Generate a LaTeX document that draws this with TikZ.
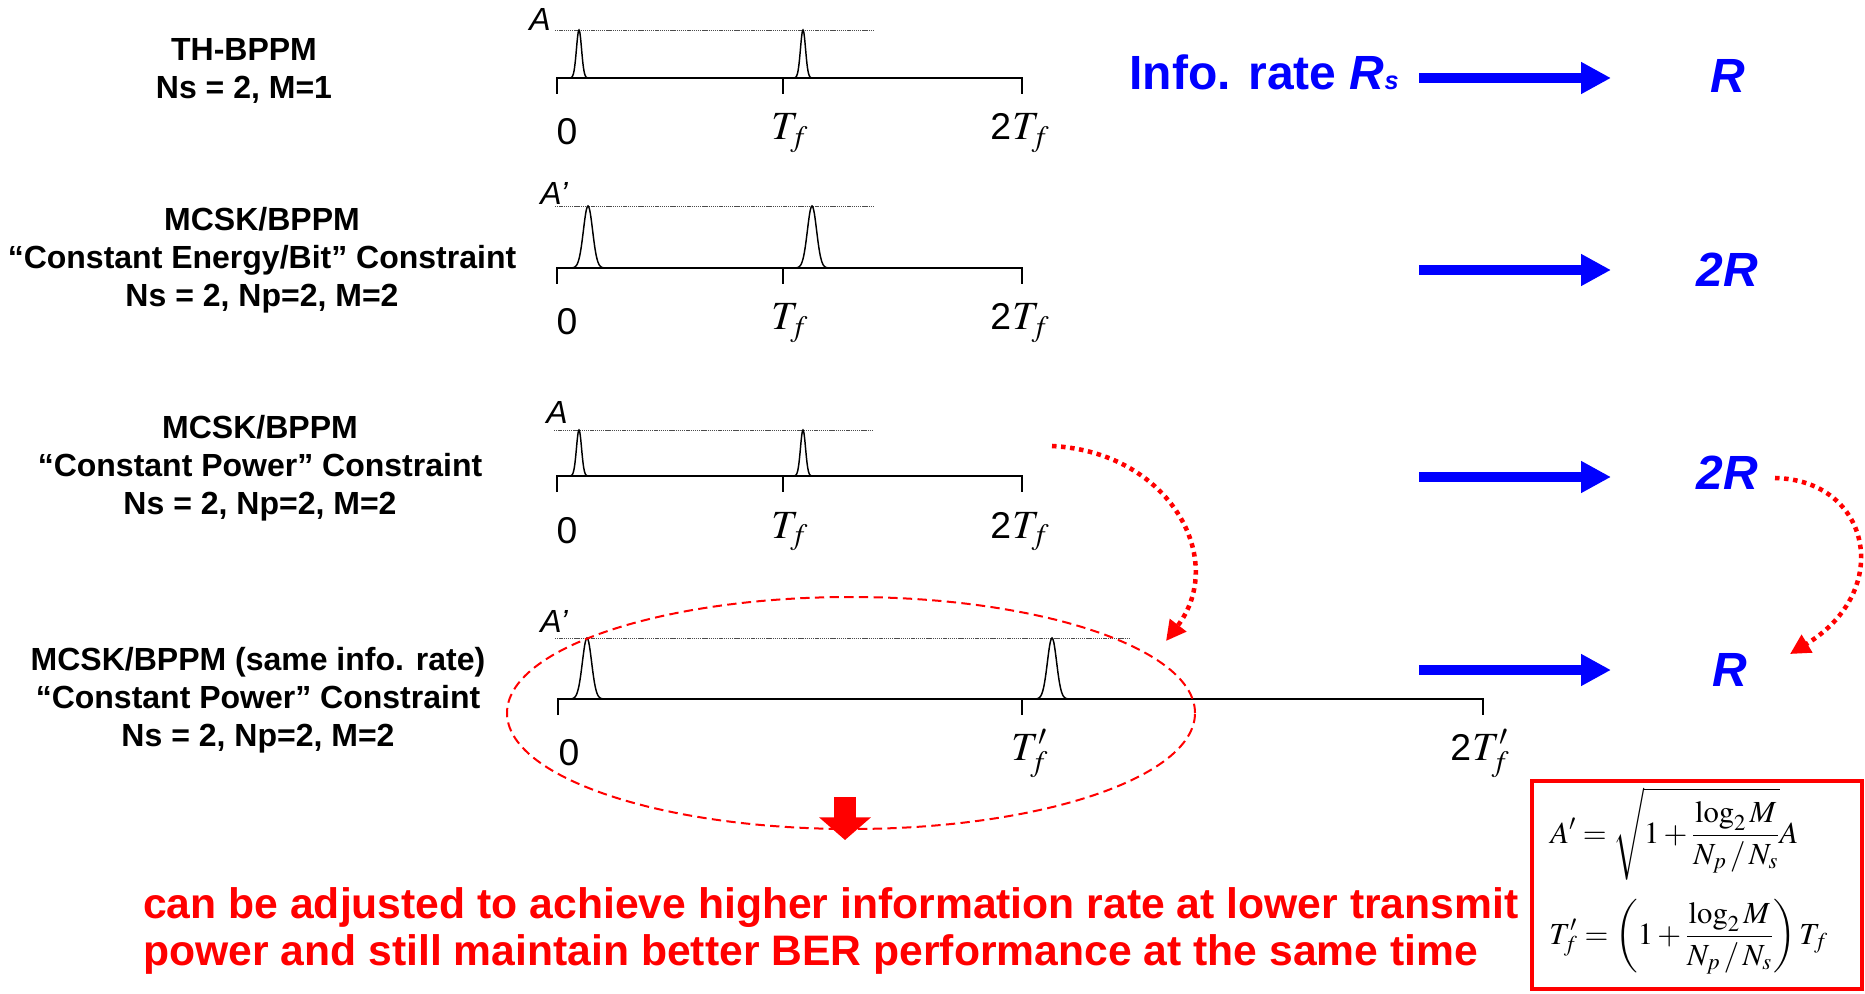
\documentclass[tikz,border=0pt]{standalone}
\usepackage{mathptmx}
\usepackage{fontspec}
\setmainfont{Liberation Sans}
\setsansfont{Liberation Sans}
\usetikzlibrary{arrows.meta,shapes.geometric}
\begin{document}
\begin{tikzpicture}[x=0.75pt,y=-0.75pt,
 lbl/.style={font=\bfseries\fontsize{24}{28.5}\selectfont, align=center, inner sep=0},
 axis/.style={line width=1.5pt},
 pulse/.style={line width=1.1pt},
 level/.style={black!70, line width=0.5pt, dash pattern=on 1pt off 0.6pt},
 amp/.style={font=\itshape\fontsize{24}{26}\selectfont, anchor=base east, inner sep=0},
 tlbl/.style={font=\fontsize{30}{34}\selectfont, anchor=base west, inner sep=0},
 zlbl/.style={font=\fontsize{28}{32}\selectfont, anchor=base, inner sep=0},
 barrow/.style={blue, line width=7.5pt, -{Triangle[length=22.5pt,width=22.5pt]}},
 rate/.style={text=blue, font=\bfseries\itshape\fontsize{36}{40}\selectfont, inner sep=0},
 rdots/.style={red, line width=3.4pt, dash pattern=on 3.4pt off 3.4pt, -{Triangle[length=15pt,width=15pt]}},
 frm/.style={anchor=west, inner sep=0, font=\fontsize{23}{27}\selectfont},
]
\useasboundingbox (0,0) rectangle (1865,994);

% left labels
\node[lbl] (l1) at (244,71) {TH-BPPM\\Ns = 2, M=1};
\node[lbl] (l2) at (262,260) {MCSK/BPPM\\“Constant Energy/Bit” Constraint\\Ns = 2, Np=2, M=2};
\node[lbl] (l3) at (260,468) {MCSK/BPPM\\“Constant Power” Constraint\\Ns = 2, Np=2, M=2};
\node[lbl] (l4) at (258,700) {MCSK/BPPM (same info. rate)\\“Constant Power” Constraint\\Ns = 2, Np=2, M=2};

% axes
\foreach \yb in {78,268,476}{
  \draw[axis] (557,\yb+16) -- (557,\yb) -- (1022,\yb) -- (1022,\yb+16);
  \draw[axis] (783,\yb) -- (783,\yb+16);
  \node[zlbl] at (567,\yb+67) {0};
  \node[tlbl] at (771,\yb+62) {$T_f$};
  \node[tlbl] at (990,\yb+62) {{\fontsize{28}{32}\selectfont 2}\kern1pt$T_f$};
}
\draw[axis] (558,715) -- (558,699) -- (1483,699) -- (1483,715);
\draw[axis] (1022,699) -- (1022,715);
\node[zlbl] at (569,765) {0};
\node[tlbl] at (1011,760) {$T'_f$};
\node[tlbl] at (1450,760) {{\fontsize{28}{32}\selectfont 2}\kern1pt$T'_f$};

% amplitude levels
\draw[level] (555,30) -- (873,30);
\draw[level] (555,206) -- (873,206);
\draw[level] (554,430) -- (873,430);
\draw[level] (555,638) -- (1130,638);
\node[amp] at (551,31) {A};
\node[amp] at (568,205) {A’};
\node[amp] at (568,423) {A};
\node[amp] at (568,632) {A’};

% pulses
\foreach \cx/\base/\h/\s/\hw in {579/78/48/3.6/9, 803/78/48/3.6/9, 588/268/62/6.5/17, 812/268/62/6.5/17, 579/476/46/3.6/9, 803/476/46/3.6/9, 587/699/61/6.5/17, 1052/699/61/6.5/17}
  \draw[pulse] plot[domain=-\hw:\hw, samples=41, smooth] ({\cx+\x}, {\base-\h*exp(-(\x*\x)/(\s*\s))});

% ellipse
\node[ellipse, draw=red, line width=1.5pt, dash pattern=on 7pt off 4pt, minimum width=516pt, minimum height=174pt, inner sep=0] (ell) at (851,713) {};

% rates
\node[font=\bfseries\fontsize{36}{40}\selectfont, text=blue, anchor=base east, inner sep=0] (info) at (1399,90) {Info. rate \textit{R}{\fontsize{19}{20}\selectfont\textit{s}}};
\node[rate] (r1) at (1728,76) {R};
\node[rate] (r2) at (1727,270) {2R};
\node[rate] (r3) at (1727,473) {2R};
\node[rate] (r4) at (1730,670) {R};

\coordinate (b1s) at (1419,78);  \coordinate (b1e) at (1611,78);
\coordinate (b2s) at (1419,270); \coordinate (b2e) at (1611,270);
\coordinate (b3s) at (1419,477); \coordinate (b3e) at (1611,477);
\coordinate (b4s) at (1419,670); \coordinate (b4e) at (1611,670);
\draw[barrow] (b1s) -- (b1e);
\draw[barrow] (b2s) -- (b2e);
\draw[barrow] (b3s) -- (b3e);
\draw[barrow] (b4s) -- (b4e);

% red dotted arrows
\coordinate (c1s) at (1052,446); \coordinate (c1e) at (1166,641);
\draw[rdots] (c1s) .. controls (1170,452) and (1228,560) .. (c1e);
\coordinate (c2s) at (1775,478); \coordinate (c2e) at (1790,654);
\draw[rdots] (c2s) .. controls (1870,480) and (1895,590) .. (c2e);

% bottom note
\node[anchor=base west, align=left, inner sep=0, text=red, font=\bfseries\fontsize{32}{35}\selectfont] (note) at (143,965) {can be adjusted to achieve higher information rate at lower transmit\\power and still maintain better BER performance at the same time};
\coordinate (d1s) at (845,797); \coordinate (d1e) at (845,840);
\draw[red, line width=16.5pt, -{Triangle[length=17pt,width=38pt]}] (d1s) -- (d1e);

% formula box
\draw[red, line width=3pt] (1532,781) rectangle (1862,989);
\node[frm] (fA) at (1550,834) {$\displaystyle A' = \sqrt{1+\frac{\log_2 M}{N_p\,/\,N_s}}A$};
\node[frm] (fT) at (1549,937) {$\displaystyle T'_f = \left(1+\frac{\log_2 M}{N_p\,/\,N_s}\right)T_f$};
\end{tikzpicture}
\end{document}
